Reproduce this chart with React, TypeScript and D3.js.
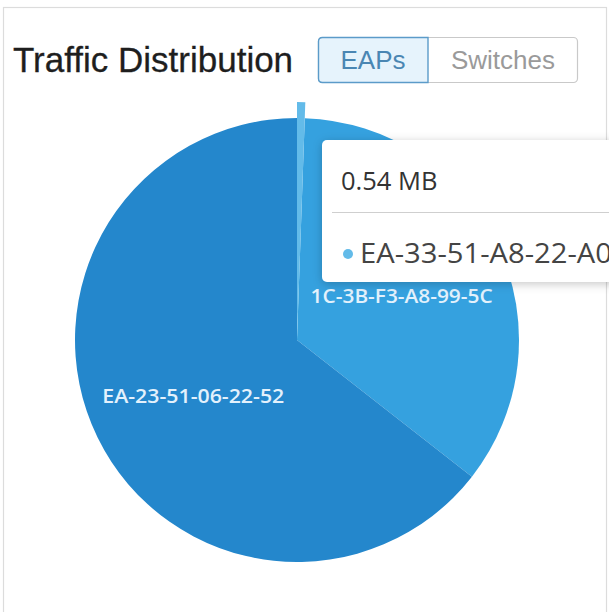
import React from "react";
import * as d3 from "d3";

const chartTitle = "Traffic Distribution";
const buttonLabels = ["EAPs", "Switches"];
const selectedButton = 0;
const sliceNames = ["EA-33-51-A8-22-A0", "1C-3B-F3-A8-99-5C", "EA-23-51-06-22-52"];
const sliceValues = [0.54, 34.0, 62.6];
const sliceColors = ["#63bbe9", "#35a1df", "#2487cc"];
const hoveredSlice = 0;
const valueUnit = "MB";

const W = 609;
const H = 612;
const cx = 297;
const cy = 340;
const R = 222;
const Rhover = 238;

export default function App() {
  const pie = d3
    .pie<number>()
    .sort(null)
    .value((d) => d)
    .startAngle(0)
    .endAngle(Math.PI * 2);
  const arcs = pie(sliceValues);
  const arcGen = d3.arc<d3.PieArcDatum<number>>().innerRadius(0).outerRadius(R);
  const arcHover = d3.arc<d3.PieArcDatum<number>>().innerRadius(0).outerRadius(Rhover);
  const labelArc = d3.arc<d3.PieArcDatum<number>>().innerRadius(0).outerRadius(R * 1.04);

  const order = arcs.map((_, i) => i).filter((i) => i !== hoveredSlice).concat([hoveredSlice]);

  const bw0 = 110;
  const btnWidths = [bw0, 260 - bw0];
  const btnStarts = [318, 318 + bw0];

  const tipValue = `${sliceValues[hoveredSlice].toFixed(2)} ${valueUnit}`;

  return (
    <svg
      width={W}
      height={H}
      viewBox={`0 0 ${W} ${H}`}
      style={{ position: "absolute", left: 0, top: 0, background: "#fff" }}
    >
      <defs>
        <filter id="tipShadow" x="-20%" y="-30%" width="140%" height="160%">
          <feDropShadow dx="0" dy="2" stdDeviation="5" floodColor="#000" floodOpacity="0.22" />
        </filter>
      </defs>
      <rect x={3.5} y={7.5} width={603} height={640} fill="#fff" stroke="#dcdcdc" strokeWidth={1.2} />

      <text
        x={13}
        y={72}
        fontFamily="'Liberation Sans', Arial, sans-serif"
        fontSize={35}
        fill="#1e1e1e"
        stroke="#1e1e1e"
        strokeWidth={0.3}
      >
        {chartTitle}
      </text>

      {/* button group */}
      <rect x={318.5} y={37.5} width={259} height={45} rx={4} fill="#fff" stroke="#c9c9c9" strokeWidth={1.2} />
      {buttonLabels.map((b, i) => {
        const x0 = btnStarts[i];
        const w = btnWidths[i];
        const sel = i === selectedButton;
        return (
          <g key={b}>
            {sel && (
              <path
                d={`M${x0 + w},37.5 L${x0 + 4.5},37.5 Q${x0 + 0.5},37.5 ${x0 + 0.5},41.5 L${x0 + 0.5},78.5 Q${x0 + 0.5},82.5 ${x0 + 4.5},82.5 L${x0 + w},82.5 Z`}
                fill="#e6f3fc"
                stroke="#5b9bc9"
                strokeWidth={1.4}
              />
            )}
            <text
              x={x0 + w / 2}
              y={69}
              textAnchor="middle"
              fontFamily="'Liberation Sans', Arial, sans-serif"
              fontSize={26}
              fill={sel ? "#4a86b3" : "#9a9a9a"}
            >
              {b}
            </text>
          </g>
        );
      })}

      {/* pie */}
      <g transform={`translate(${cx},${cy})`}>
        {order.map((i) => (
          <path
            key={sliceNames[i]}
            d={(i === hoveredSlice ? arcHover : arcGen)(arcs[i]) || ""}
            fill={sliceColors[i]}
          />
        ))}
        {arcs.map((a, i) => {
          if (a.endAngle - a.startAngle < 0.3) return null;
          const [lx, ly] = labelArc.centroid(a);
          return (
            <text
              key={"l" + sliceNames[i]}
              x={lx}
              y={ly}
              dy="0.6em"
              textAnchor="middle"
              fontFamily="'Open Sans', 'Noto Sans', sans-serif"
              fontSize={20}
              fontWeight={600}
              textLength={182}
              lengthAdjust="spacingAndGlyphs"
              fill="#e3f1fc"
            >
              {sliceNames[i]}
            </text>
          );
        })}
      </g>

      {/* tooltip */}
      <g>
        <rect x={322} y={140} width={330} height={142} rx={5} fill="#fff" filter="url(#tipShadow)" />
        <text x={341} y={190} fontFamily="'Open Sans', 'Noto Sans', sans-serif" fontSize={25.5} fill="#333">
          {tipValue}
        </text>
        <line x1={332} x2={640} y1={212.5} y2={212.5} stroke="#cfcfcf" strokeWidth={1.2} />
        <circle cx={348} cy={254} r={5} fill={sliceColors[hoveredSlice]} />
        <text
          x={360}
          y={263}
          fontFamily="'Open Sans', 'Noto Sans', sans-serif"
          fontSize={28}
          textLength={252}
          lengthAdjust="spacingAndGlyphs"
          fill="#444"
        >
          {sliceNames[hoveredSlice]}
        </text>
      </g>
    </svg>
  );
}
